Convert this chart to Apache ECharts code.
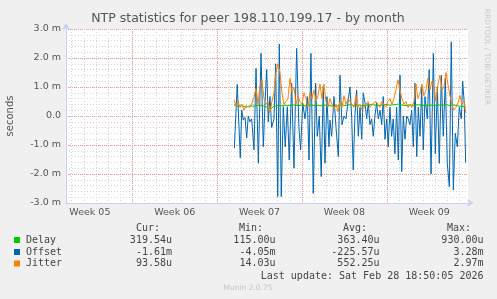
<!DOCTYPE html>
<html>
<head>
<meta charset="utf-8">
<title>NTP statistics - by month</title>
<script src="https://cdn.jsdelivr.net/npm/echarts@6/dist/echarts.min.js"></script>
<style>
  html, body { margin: 0; padding: 0; background: #f0f0f0; }
  #chart { width: 497px; height: 299px; }
</style>
</head>
<body>
<div id="chart"></div>
<script>
;(function(){
	'use strict';

	// x axis is in days, 0 = first week boundary of the graph
	var xMin = -5.47;
	var xMax = 27.70;
	var dayLines = [-5,-4,-3,-2,-1,0,1,2,3,4,5,6,7,8,9,10,11,12,13,14,15,16,17,18,19,20,21,22,23,24,25,26,27];
	var weekLines = [0, 7, 14, 21];
	var weekCenters = [-3.5, 3.5, 10.5, 17.5, 24.5];
	var weekLabels = ['Week 05', 'Week 06', 'Week 07', 'Week 08', 'Week 09'];

	// values in milliseconds
	var delayStart = 8.39;
	var delayStep = 0.33;
	var delayValues = [0.38,0.33,0.36,0.30,0.35,0.34,0.37,0.35,0.33,0.22,
		0.34,0.36,0.35,0.37,0.36,0.38,0.36,0.37,0.35,0.38,
		0.36,0.37,0.35,0.38,0.36,0.33,0.35,0.38,0.36,0.39,
		0.36,0.38,0.35,0.37,0.40,0.38,0.36,0.38,0.40,0.37,
		0.39,0.41,0.38,0.36,0.38,0.36,0.39,0.37,0.35,0.38,
		0.36,0.38,0.37,0.39,0.36,0.38,0.35,0.33,0.32];

	var offsetDays = [8.42,8.66,8.91,9.03,9.16,9.30,9.44,9.57,9.71,9.85,
		10.04,10.21,10.40,10.62,10.81,10.95,11.09,11.22,11.36,11.50,
		11.69,11.83,12.00,12.13,12.29,12.46,12.62,12.79,12.95,13.15,
		13.34,13.56,13.75,13.89,14.06,14.25,14.44,14.58,14.74,14.93,
		15.13,15.26,15.43,15.59,15.76,15.90,16.06,16.23,16.31,16.45,
		16.64,16.81,17.00,17.14,17.30,17.47,17.63,17.82,17.96,18.10,
		18.23,18.37,18.51,18.65,18.79,18.93,19.06,19.20,19.34,19.47,
		19.61,19.75,19.88,20.02,20.16,20.30,20.44,20.58,20.71,20.85,
		20.99,21.12,21.26,21.40,21.53,21.67,21.81,21.95,22.09,22.23,
		22.36,22.50,22.64,22.77,22.91,23.05,23.19,23.33,23.47,23.60,
		23.74,23.88,24.01,24.15,24.34,24.50,24.65,24.84,25.00,25.17,
		25.33,25.50,25.66,25.83,25.99,26.16,26.32,26.49,26.65,26.82,
		26.98,27.15,27.26,27.39,27.51];
	var offsetValues = [-1.11,1.09,-1.45,0.2,-0.14,-0.05,-0.76,0,-0.2,-0.1,
		-1.17,1.64,-1.63,2.16,-1.06,0.45,1.6,-0.2,0.67,-0.4,
		-0.1,1.8,-2.78,2.48,-2.78,0.32,-1.06,0.32,-1.52,1.13,
		-1.8,2.33,-0.4,-1.17,0.45,-0.1,0.67,-1.52,2.16,-2.67,
		1.13,-0.7,0.0,-2.09,1.01,-1.63,0.67,-1.06,-0.14,-0.7,
		0.67,-0.4,-1.4,1.41,-0.3,0,-0.1,0.55,1.0,0,
		-1.86,0,0.9,-0.7,0.3,-0.8,0.8,0.45,-0.1,0.45,
		-0.3,-0.1,-0.7,0,0.45,-0.1,0.2,-0.3,0.67,-0.8,
		-0.1,-1.06,0.3,-0.7,-0.1,-1.3,0.3,-1.52,1.41,-1.92,
		0,-0.8,0,-0.1,-0.3,0.2,-1.06,1.13,-1.4,0.3,
		-0.7,1.0,-1.17,0.67,-0.1,1.6,-2.0,2.16,-1.3,1.0,
		-1.63,1.4,-0.7,1.3,-1.63,-2.44,2.56,-2.55,-0.6,-1.06,
		0.3,-0.1,1.2,0.45,-1.61];

	var jitterStart = 8.39;
	var jitterStep = 0.165;
	var jitterValues = [0.55,0.35,0.5,0.3,0.4,0.2,0.35,0.4,0.3,0.45,
		0.65,0.95,0.4,1.05,1.25,0.6,0.4,0.5,0.12,0.5,
		0.8,1.5,1.8,1.5,0.8,0.4,0.45,0.6,1.3,0.8,
		1.0,0.4,0.7,0.5,0.4,0.8,0.6,0.3,0.8,0.6,
		0.9,0.5,0.7,1.1,0.6,1.1,0.5,0.3,0.6,0.4,
		0.25,0.4,0.15,0.5,0.3,0.7,0.4,0.6,0.5,0.4,
		0.3,0.7,0.3,0.4,0.2,0.3,0.35,0.5,0.3,0.4,
		0.35,0.5,0.4,0.3,0.5,0.45,0.3,0.5,0.6,0.4,
		0.6,0.9,1.25,0.9,0.6,0.4,0.5,0.3,0.4,0.3,
		0.5,1.1,0.6,0.8,1.1,0.7,0.9,1.3,0.9,1.2,
		1.0,0.5,1.1,1.4,0.9,1.0,1.5,1.1,0.7,0.4,
		0.2,0.3,0.45,0.7,0.4,0.5,0.1];

	var seriesNames = ['Delay', 'Offset', 'Jitter'];
	var seriesColors = ['#00cc00', '#0066b3', '#ff8000'];
	var statHeaders = ['Cur:', 'Min:', 'Avg:', 'Max:'];
	var statCur = ['319.54u', '-1.61m', '93.58u'];
	var statMin = ['115.00u', '-4.05m', '14.03u'];
	var statAvg = ['363.40u', '-225.57u', '552.25u'];
	var statMax = ['930.00u', '3.28m', '2.97m'];
	var lastUpdate = 'Last update: Sat Feb 28 18:50:05 2026';

	function regular(start, step, values){
		var out = [];
		for (var i = 0; i < values.length; i++) {
			out.push([start + i * step, values[i]]);
		}
		return out;
	}

	function pairs(xs, ys){
		var out = [];
		for (var i = 0; i < xs.length; i++) {
			out.push([xs[i], ys[i]]);
		}
		return out;
	}

	var axisColor = '#c9cff5';
	var minorGrid = { show: true, lineStyle: { color: '#d4d4d4', type: [1, 2], width: 1 } };
	var majorGrid = { show: true, lineStyle: { color: '#e8a0a0', type: [1, 1], width: 1 } };
	var labelFont = { color: '#555', fontFamily: 'DejaVu Sans', fontSize: 9.5 };
	var mono = 'DejaVu Sans Mono';

	// legend table drawn as text
	var graphics = [];
	var rowsY = [240, 252, 263.5];
	var colRight = [172, 275.5, 379.5, 483.5];
	var colHead = [136, 239, 343, 447];
	var statCols = [statCur, statMin, statAvg, statMax];
	for (var c = 0; c < 4; c++) {
		graphics.push({ type: 'text', x: colHead[c], y: 228,
			style: { text: statHeaders[c], font: '10px "' + mono + '"', fill: '#444', textVerticalAlign: 'middle' } });
	}
	for (var r = 0; r < 3; r++) {
		graphics.push({ type: 'rect', shape: { x: 14, y: rowsY[r] - 3, width: 6, height: 6 },
			style: { fill: seriesColors[r] } });
		graphics.push({ type: 'text', x: 26, y: rowsY[r],
			style: { text: seriesNames[r], font: '10px "' + mono + '"', fill: '#444', textVerticalAlign: 'middle' } });
		for (var k = 0; k < 4; k++) {
			graphics.push({ type: 'text', x: colRight[k], y: rowsY[r],
				style: { text: statCols[k][r], font: '10px "' + mono + '"', fill: '#444', textAlign: 'right', textVerticalAlign: 'middle' } });
		}
	}
	graphics.push({ type: 'text', x: 483.5, y: 276,
		style: { text: lastUpdate, font: '10px "' + mono + '"', fill: '#444', textAlign: 'right', textVerticalAlign: 'middle' } });
	graphics.push({ type: 'text', x: 248, y: 288,
		style: { text: 'Munin 2.0.75', font: '7.5px "DejaVu Sans"', fill: '#c4c4c4', textAlign: 'center', textVerticalAlign: 'middle' } });
	graphics.push({ type: 'text', x: 248, y: 19,
		style: { text: 'NTP statistics for peer 198.110.199.17 - by month', font: '12.5px "DejaVu Sans"', fill: '#555', textAlign: 'center', textVerticalAlign: 'middle' } });
	graphics.push({ type: 'text', x: 10, y: 116, rotation: Math.PI / 2,
		style: { text: 'seconds', font: '10px "DejaVu Sans"', fill: '#555', textAlign: 'center', textVerticalAlign: 'middle' } });
	graphics.push({ type: 'text', x: 487, y: 57, rotation: -Math.PI / 2,
		style: { text: 'RRDTOOL / TOBI OETIKER', font: '7.5px "DejaVu Sans"', fill: '#c8c8c8', textAlign: 'center', textVerticalAlign: 'middle' } });

	var option = {
		animation: false,
		backgroundColor: '#f0f0f0',
		grid: { left: 66, right: 29, top: 29, bottom: 96, show: true, backgroundColor: '#ffffff', borderWidth: 0 },
		xAxis: [{
			type: 'value', min: xMin, max: xMax,
			axisLine: { show: true, onZero: false, lineStyle: { color: axisColor }, symbol: ['none', 'arrow'], symbolSize: [6, 7], symbolOffset: [0, 6] },
			axisTick: { show: false, customValues: dayLines },
			axisLabel: { show: false },
			splitLine: minorGrid
		}, {
			type: 'value', min: xMin, max: xMax, position: 'bottom',
			axisLine: { show: false },
			axisTick: { show: false, customValues: weekLines },
			axisLabel: {
				show: true, customValues: weekCenters, margin: 5,
				color: labelFont.color, fontFamily: labelFont.fontFamily, fontSize: labelFont.fontSize,
				formatter: function(v){
					for (var i = 0; i < weekCenters.length; i++) {
						if (Math.abs(weekCenters[i] - v) < 0.01) return weekLabels[i];
					}
					return '';
				}
			},
			splitLine: majorGrid
		}],
		yAxis: [{
			type: 'value', min: -3, max: 3, interval: 0.2,
			axisLine: { show: true, onZero: false, lineStyle: { color: axisColor }, symbol: ['none', 'arrow'], symbolSize: [6, 7], symbolOffset: [0, 6] },
			axisTick: { show: false },
			axisLabel: { show: false },
			splitLine: minorGrid
		}, {
			type: 'value', min: -3, max: 3, interval: 1, position: 'left',
			axisLine: { show: false },
			axisTick: { show: false },
			axisLabel: {
				show: true, margin: 5,
				color: labelFont.color, fontFamily: labelFont.fontFamily, fontSize: labelFont.fontSize,
				formatter: function(v){
					if (Math.abs(v) < 1e-9) return '0.0';
					return v.toFixed(1) + ' m';
				}
			},
			splitLine: majorGrid
		}],
		graphic: graphics,
		series: [{
			name: 'Delay', type: 'line', showSymbol: false, xAxisIndex: 0, yAxisIndex: 0,
			data: regular(delayStart, delayStep, delayValues),
			lineStyle: { color: seriesColors[0], width: 1 }, z: 3
		}, {
			name: 'Offset', type: 'line', showSymbol: false, xAxisIndex: 0, yAxisIndex: 0,
			data: pairs(offsetDays, offsetValues),
			lineStyle: { color: seriesColors[1], width: 1 }, z: 2
		}, {
			name: 'Jitter', type: 'line', showSymbol: false, xAxisIndex: 0, yAxisIndex: 0,
			data: regular(jitterStart, jitterStep, jitterValues),
			lineStyle: { color: seriesColors[2], width: 1 }, z: 3
		}]
	};

	var myChart = echarts.init(document.getElementById('chart'), null, { renderer: 'canvas' });
	myChart.setOption(option);
})();
</script>
</body>
</html>
